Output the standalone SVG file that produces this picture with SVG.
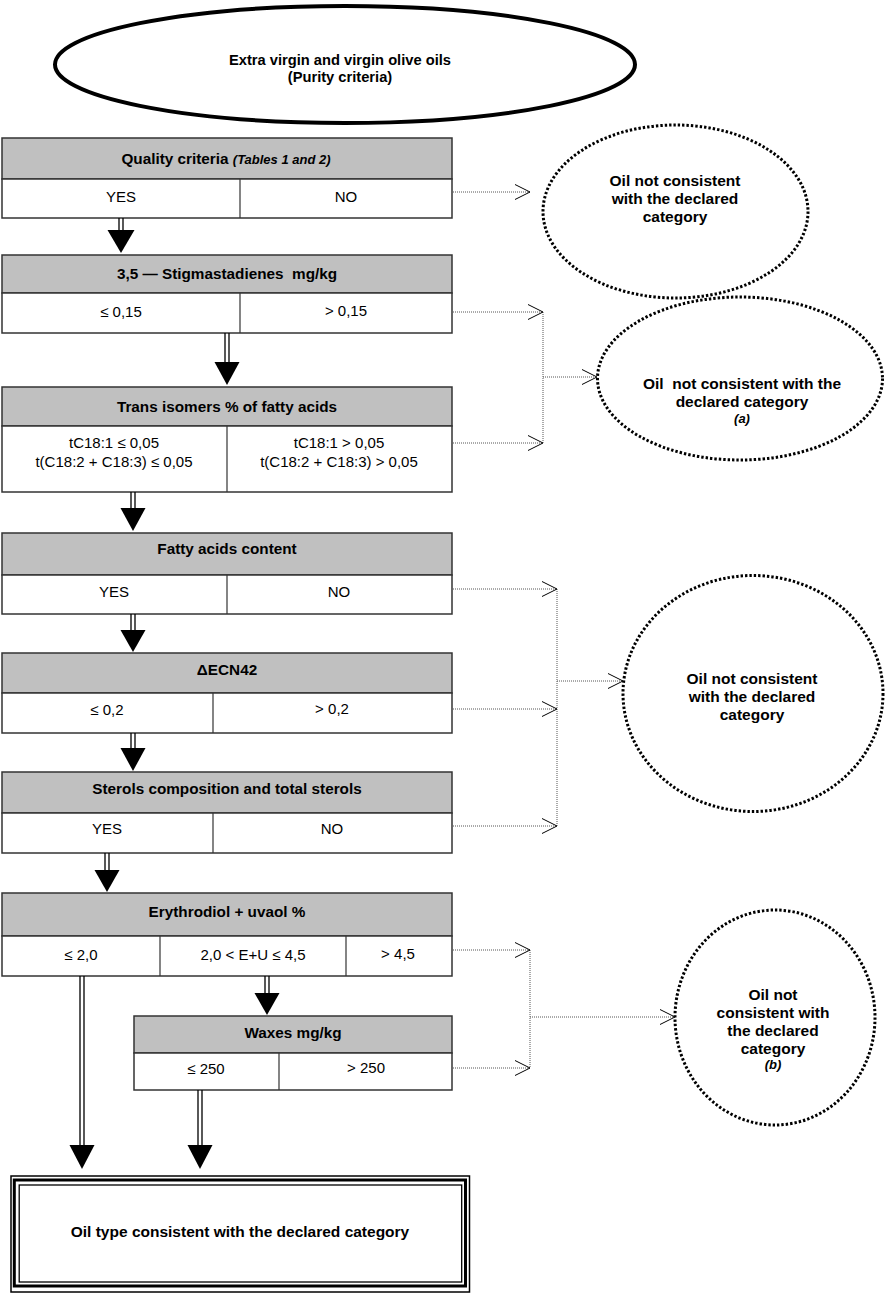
<svg xmlns="http://www.w3.org/2000/svg" width="885" height="1295" viewBox="0 0 885 1295">
<style>
text{font-family:"Liberation Sans",Arial,sans-serif;fill:#000;text-anchor:middle;white-space:pre}
.h{font-weight:bold;font-size:15.3px}
.c{font-size:15px}
.e{font-weight:bold;font-size:15.5px}
.i{font-style:italic;font-weight:bold;font-size:13px}
.hd{fill:#c0c0c0;stroke:#333;stroke-width:1.5}
.cl{fill:#fff;stroke:#333;stroke-width:1.5}
.dv{stroke:#333;stroke-width:1.2}
.sh{stroke:#000;stroke-width:1.3;fill:none}
.ah{fill:#000}
.dl{stroke:#555;stroke-width:1;stroke-dasharray:1 1;fill:none}
.ch{stroke:#000;stroke-width:1;fill:none}
.de{fill:#fff;fill-opacity:0;stroke:#000;stroke-width:3;stroke-dasharray:2.4 2}
</style>
<g id="start">
<ellipse cx="345" cy="64.5" rx="290" ry="58.5" fill="#fff" stroke="#000" stroke-width="4"/>
<text class="h" x="340" y="65" style="font-size:14.7px">Extra virgin and virgin olive oils</text>
<text class="h" x="340" y="82" style="font-size:14.7px">(Purity criteria)</text>
</g>
<g id="quality">
<rect class="hd" x="2" y="138" width="450" height="41"/>
<rect class="cl" x="2" y="179" width="450" height="39"/>
<line class="dv" x1="240" y1="179" x2="240" y2="218"/>
<text class="h" x="226" y="164" xml:space="preserve">Quality criteria <tspan class="i">(Tables 1 and 2)</tspan></text>
<text class="c" x="121" y="202">YES</text>
<text class="c" x="346" y="202">NO</text>
</g>
<g id="stigma">
<rect class="hd" x="2" y="255" width="450" height="38"/>
<rect class="cl" x="2" y="293" width="450" height="40"/>
<line class="dv" x1="240" y1="293" x2="240" y2="333"/>
<text class="h" x="227" y="279" xml:space="preserve">3,5 — Stigmastadienes  mg/kg</text>
<text class="c" x="121" y="317">≤ 0,15</text>
<text class="c" x="346" y="316">&gt; 0,15</text>
</g>
<g id="trans">
<rect class="hd" x="2" y="387" width="450" height="39"/>
<rect class="cl" x="2" y="426" width="450" height="66"/>
<line class="dv" x1="227" y1="426" x2="227" y2="492"/>
<text class="h" x="227" y="412">Trans isomers % of fatty acids</text>
<text class="c" x="114" y="448">tC18:1 ≤ 0,05</text>
<text class="c" x="114" y="467">t(C18:2 + C18:3) ≤ 0,05</text>
<text class="c" x="339" y="448">tC18:1 &gt; 0,05</text>
<text class="c" x="339" y="467">t(C18:2 + C18:3) &gt; 0,05</text>
</g>
<g id="fatty">
<rect class="hd" x="2" y="533" width="450" height="42"/>
<rect class="cl" x="2" y="575" width="450" height="39"/>
<line class="dv" x1="227" y1="575" x2="227" y2="614"/>
<text class="h" x="227" y="554">Fatty acids content</text>
<text class="c" x="114" y="597">YES</text>
<text class="c" x="339" y="597">NO</text>
</g>
<g id="ecn">
<rect class="hd" x="2" y="653" width="450" height="40"/>
<rect class="cl" x="2" y="693" width="450" height="40"/>
<line class="dv" x1="213" y1="693" x2="213" y2="733"/>
<text class="h" x="227" y="675">ΔECN42</text>
<text class="c" x="107" y="715">≤ 0,2</text>
<text class="c" x="332" y="714">&gt; 0,2</text>
</g>
<g id="sterols">
<rect class="hd" x="2" y="772" width="450" height="41"/>
<rect class="cl" x="2" y="813" width="450" height="40"/>
<line class="dv" x1="213" y1="813" x2="213" y2="853"/>
<text class="h" x="227" y="794">Sterols composition and total sterols</text>
<text class="c" x="107" y="834">YES</text>
<text class="c" x="332" y="834">NO</text>
</g>
<g id="erythrodiol">
<rect class="hd" x="2" y="893" width="450" height="43"/>
<rect class="cl" x="2" y="936" width="450" height="40"/>
<line class="dv" x1="160" y1="936" x2="160" y2="976"/>
<line class="dv" x1="346" y1="936" x2="346" y2="976"/>
<text class="h" x="227" y="917">Erythrodiol + uvaol %</text>
<text class="c" x="81" y="960">≤ 2,0</text>
<text class="c" x="253" y="960">2,0 &lt; E+U ≤ 4,5</text>
<text class="c" x="398" y="959">&gt; 4,5</text>
</g>
<g id="waxes">
<rect class="hd" x="134" y="1016" width="318" height="37"/>
<rect class="cl" x="134" y="1053" width="318" height="37"/>
<line class="dv" x1="279" y1="1053" x2="279" y2="1090"/>
<text class="h" x="293" y="1038">Waxes mg/kg</text>
<text class="c" x="206" y="1074">≤ 250</text>
<text class="c" x="366" y="1073">&gt; 250</text>
</g>
<g id="result">
<rect x="11" y="1176" width="458.5" height="116" fill="#fff" stroke="#000" stroke-width="1.5"/>
<rect x="14.3" y="1180" width="451.2" height="106" fill="none" stroke="#000" stroke-width="3"/>
<rect x="19.2" y="1185" width="442.5" height="97" fill="none" stroke="#000" stroke-width="1.3"/>
<text class="e" x="240" y="1237">Oil type consistent with the declared category</text>
</g>
<g id="reject1">
<ellipse class="de" cx="675.5" cy="211.5" rx="132.5" ry="86.5"/>
<text class="e" x="675" y="186">Oil not consistent</text>
<text class="e" x="675" y="204">with the declared</text>
<text class="e" x="675" y="222">category</text>
</g>
<g id="reject2">
<ellipse class="de" cx="740" cy="378.5" rx="142.5" ry="81.5"/>
<text class="e" x="742" y="389" xml:space="preserve">Oil  not consistent with the</text>
<text class="e" x="742" y="407">declared category</text>
<text class="i" x="742" y="423">(a)</text>
</g>
<g id="reject3">
<ellipse class="de" cx="753" cy="693.5" rx="130" ry="118"/>
<text class="e" x="752" y="684">Oil not consistent</text>
<text class="e" x="752" y="702">with the declared</text>
<text class="e" x="752" y="720">category</text>
</g>
<g id="reject4">
<ellipse class="de" cx="775" cy="1017.5" rx="100" ry="107.5"/>
<text class="e" x="773" y="1000">Oil not</text>
<text class="e" x="773" y="1018">consistent with</text>
<text class="e" x="773" y="1036">the declared</text>
<text class="e" x="773" y="1054">category</text>
<text class="i" x="773" y="1069">(b)</text>
</g>
<g id="connectors">
<path class="sh" d="M119 218V231M123 218V231"/>
<polygon class="ah" points="107.5,230 134.5,230 121,253"/>
<path class="sh" d="M225 333V363M229 333V363"/>
<polygon class="ah" points="214.5,362 239.5,362 227,385"/>
<path class="sh" d="M131 492V509M135 492V509"/>
<polygon class="ah" points="120.5,508 145.5,508 133,531"/>
<path class="sh" d="M131 614V631M135 614V631"/>
<polygon class="ah" points="120.5,630 145.5,630 133,652"/>
<path class="sh" d="M131 733V749M135 733V749"/>
<polygon class="ah" points="120.5,748 145.5,748 133,771"/>
<path class="sh" d="M105 853V871M109 853V871"/>
<polygon class="ah" points="94.5,870 119.5,870 107,892"/>
<path class="sh" d="M265 976V994M269 976V994"/>
<polygon class="ah" points="254.5,993 279.5,993 267,1015"/>
<path class="sh" d="M80 976V1146M84 976V1146"/>
<polygon class="ah" points="69.5,1145 94.5,1145 82,1169"/>
<path class="sh" d="M198 1090V1146M202 1090V1146"/>
<polygon class="ah" points="187.5,1145 212.5,1145 200,1169"/>
<path class="dl" d="M453 192H530"/>
<polyline class="ch" points="515,184.5 530,192 515,199.5"/>
<path class="dl" d="M453 312H543M453 443H543M543 312V443M543 377H597"/>
<polyline class="ch" points="528,304.5 543,312 528,319.5"/>
<polyline class="ch" points="528,435.5 543,443 528,450.5"/>
<polyline class="ch" points="582,369.5 597,377 582,384.5"/>
<path class="dl" d="M453 589H557M453 709H557M453 826H557M557 589V826M557 681H623"/>
<polyline class="ch" points="542,581.5 557,589 542,596.5"/>
<polyline class="ch" points="542,701.5 557,709 542,716.5"/>
<polyline class="ch" points="542,818.5 557,826 542,833.5"/>
<polyline class="ch" points="608,673.5 623,681 608,688.5"/>
<path class="dl" d="M453 950H530M453 1068H530M530 950V1068M530 1017H675"/>
<polyline class="ch" points="515,942.5 530,950 515,957.5"/>
<polyline class="ch" points="515,1060.5 530,1068 515,1075.5"/>
<polyline class="ch" points="660,1009.5 675,1017 660,1024.5"/>
</g>
</svg>
